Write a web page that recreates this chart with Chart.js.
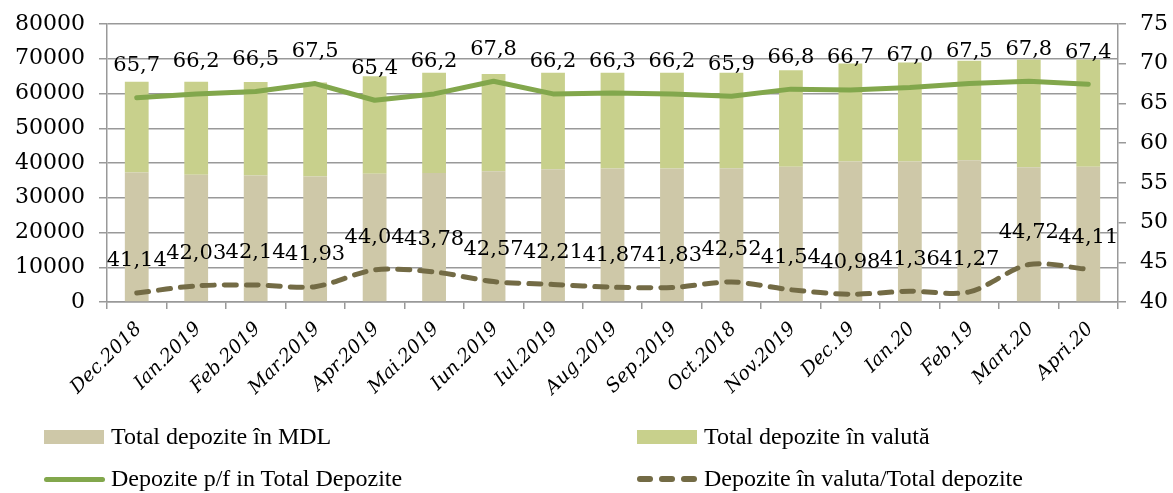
<!DOCTYPE html>
<html>
<head>
<meta charset="utf-8">
<script src="https://cdn.jsdelivr.net/npm/chart.js@4"></script>
<style>
  body { margin: 0; background: #fff; }
  #wrap { position: relative; width: 1173px; height: 493px; }
  .leg { position: absolute; font-family: 'Liberation Serif', serif; font-size: 24px; color: #000; white-space: nowrap; line-height: 1; }
  .sw { position: absolute; }
</style>
</head>
<body>
<div id="wrap">
  <canvas id="depChart" width="1173" height="493"></canvas>
</div>
<script>
const months = ['Dec.2018', 'Ian.2019', 'Feb.2019', 'Mar.2019', 'Apr.2019', 'Mai.2019', 'Iun.2019', 'Iul.2019',
  'Aug.2019', 'Sep.2019', 'Oct.2018', 'Nov.2019', 'Dec.19', 'Ian.20', 'Feb.19', 'Mart.20', 'Apri.20']
const depMDL = [37300, 36600, 36400, 36100, 36900, 37100, 37600, 38200, 38400, 38400, 38500, 38900, 40400, 40400, 40800, 38800, 38900]
const depValuta = [26100, 26800, 26900, 27100, 28100, 28900, 28000, 27800, 27600, 27600, 27500, 27800, 28200, 28500, 28600, 31000, 30900]
const pfShare = [65.7, 66.2, 66.5, 67.5, 65.4, 66.2, 67.8, 66.2, 66.3, 66.2, 65.9, 66.8, 66.7, 67.0, 67.5, 67.8, 67.4]
const valutaShare = [41.14, 42.03, 42.14, 41.93, 44.04, 43.78, 42.57, 42.21, 41.87, 41.83, 42.52, 41.54, 40.98, 41.36, 41.27, 44.72, 44.11]
const leftTicks = { min: 0, max: 80000, step: 10000 }
const rightTicks = { min: 40, max: 75, step: 5 }

const colMDL = '#cec8a8'
const colValuta = '#c8d08c'
const colPf = '#82a74c'
const colDash = '#736b45'
const gridCol = '#999999'

// etichete deasupra punctelor (format cu virgula)
const pointLabels = {
  id: 'pointLabels',
  afterDatasetsDraw(chart) {
    const ctx = chart.ctx
    ctx.save()
    ctx.font = '21px "DejaVu Serif"'
    ctx.fillStyle = '#000'
    ctx.textAlign = 'center'
    ctx.textBaseline = 'middle'
    const decs = { 2: 1, 3: 2 }
    for (const i of [2, 3]) {
      const meta = chart.getDatasetMeta(i)
      const vals = chart.data.datasets[i].data
      meta.data.forEach((pt, j) => {
        ctx.fillText(vals[j].toFixed(decs[i]).replace('.', ','), pt.x, pt.y - 32)
      })
    }
    ctx.restore()
  }
}

const tickFont = { family: 'DejaVu Serif', size: 22, lineHeight: 0.5 }

let ctx = document.getElementById('depChart').getContext('2d')
let depChart = new Chart(ctx, {
  data: {
    labels: months,
    datasets: [
      { type: 'bar', label: 'Total depozite în MDL', data: depMDL, backgroundColor: colMDL, yAxisID: 'y', order: 2, barPercentage: 0.4, categoryPercentage: 1 },
      { type: 'bar', label: 'Total depozite în valută', data: depValuta, backgroundColor: colValuta, yAxisID: 'y', order: 2, barPercentage: 0.4, categoryPercentage: 1 },
      { type: 'line', label: 'Depozite p/f in Total Depozite', data: pfShare, borderColor: colPf, borderWidth: 5, pointRadius: 0, tension: 0, yAxisID: 'y1', order: 0, borderCapStyle: 'round', borderJoinStyle: 'round' },
      { type: 'line', label: 'Depozite în valuta/Total depozite', data: valutaShare, borderColor: colDash, borderWidth: 5, borderDash: [12, 10], borderCapStyle: 'round', pointRadius: 0, tension: 0.3, yAxisID: 'y1', order: 1 }
    ]
  },
  options: {
    responsive: false,
    animation: false,
    devicePixelRatio: 1,
    layout: { padding: { top: 24, bottom: 91, left: 0, right: 0 } },
    plugins: { legend: { display: false }, tooltip: { enabled: false } },
    scales: {
      x: {
        stacked: true,
        grid: { offset: true, drawOnChartArea: false, color: gridCol, lineWidth: 1.5, tickLength: 7 },
        border: { color: gridCol, width: 1.5 },
        ticks: { color: '#000', font: { family: 'DejaVu Serif', style: 'italic', size: 19 }, minRotation: 45, maxRotation: 45, autoSkip: false, padding: 9, labelOffset: 2 },
        afterFit(s) { s.height = 100 }
      },
      y: {
        stacked: true,
        min: leftTicks.min, max: leftTicks.max,
        ticks: { stepSize: leftTicks.step, color: '#000', font: tickFont, padding: 14, callback: v => String(v) },
        grid: { color: gridCol, lineWidth: 1.5, tickLength: 8 },
        border: { color: gridCol, width: 1.5 },
        afterFit(s) { s.width = 107 }
      },
      y1: {
        position: 'right',
        min: rightTicks.min, max: rightTicks.max,
        ticks: { stepSize: rightTicks.step, color: '#000', font: tickFont, padding: 14 },
        grid: { drawOnChartArea: false, color: gridCol, lineWidth: 1.5, tickLength: 8 },
        border: { color: gridCol, width: 1.5 },
        afterFit(s) { s.width = 55 }
      }
    }
  },
  plugins: [pointLabels]
})

// legenda HTML, 2 x 2
const wrap = document.getElementById('wrap')
const legItems = [
  { text: depChart.data.datasets[0].label, kind: 'box', color: colMDL, x: 44, y: 437 },
  { text: depChart.data.datasets[1].label, kind: 'box', color: colValuta, x: 637, y: 437 },
  { text: depChart.data.datasets[2].label, kind: 'line', color: colPf, x: 44, y: 479 },
  { text: depChart.data.datasets[3].label, kind: 'dash', color: colDash, x: 637, y: 479 }
]
legItems.forEach(it => {
  if (it.kind === 'box') {
    const d = document.createElement('div')
    d.className = 'sw'
    Object.assign(d.style, { left: it.x + 'px', top: (it.y - 7) + 'px', width: '60px', height: '14px', background: it.color })
    wrap.appendChild(d)
  } else if (it.kind === 'line') {
    const d = document.createElement('div')
    d.className = 'sw'
    Object.assign(d.style, { left: it.x + 'px', top: (it.y - 2.5) + 'px', width: '61px', height: '5px', borderRadius: '3px', background: it.color })
    wrap.appendChild(d)
  } else {
    for (let k = 0; k < 3; k++) {
      const d = document.createElement('div')
      d.className = 'sw'
      Object.assign(d.style, { left: (it.x + k * 22) + 'px', top: (it.y - 3) + 'px', width: '16px', height: '6px', borderRadius: '3px', background: it.color })
      wrap.appendChild(d)
    }
  }
  const t = document.createElement('div')
  t.className = 'leg'
  t.textContent = it.text
  t.style.left = (it.x + 67) + 'px'
  t.style.top = (it.y - 13) + 'px'
  wrap.appendChild(t)
})
</script>
</body>
</html>
